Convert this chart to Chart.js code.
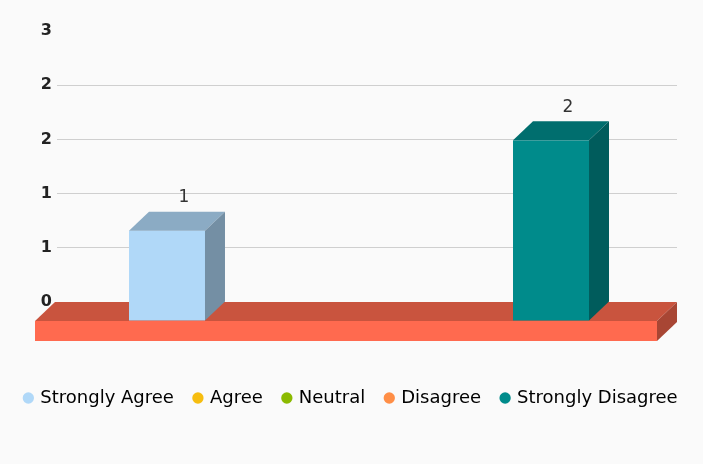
<!DOCTYPE html>
<html>
<head>
<meta charset="utf-8">
<script src="https://cdn.jsdelivr.net/npm/chart.js@4.4.1/dist/chart.umd.min.js"></script>
<style>
  html, body { margin: 0; padding: 0; background: #fafafa; }
  canvas { display: block; }
</style>
</head>
<body>
<canvas id="surveyChart" width="703" height="464"></canvas>
<script>
// Chart data
const categories = ['Strongly Agree', 'Agree', 'Neutral', 'Disagree', 'Strongly Disagree'];
const responses = [1, 0, 0, 0, 2];
const barColors = ['#B0D8F8', '#F6BD0F', '#8BBA00', '#FF8E46', '#008B8B'];
const yTicks = [0, 0.6, 1.2, 1.8, 2.4, 3];

// 3D look
const DEPTH_X = 20;
const DEPTH_Y = 19;
const FLOOR_COLOR = '#FF6A4F';
const FLOOR_THICKNESS = 20;

const shade = (hex, f) => {
    const n = parseInt(hex.slice(1), 16);
    const r = Math.round(((n >> 16) & 255) * f);
    const g = Math.round(((n >> 8) & 255) * f);
    const b = Math.round((n & 255) * f);
    return `rgb(${r},${g},${b})`;
};

// back face: left..right, top..bottom ; front face shifted left/down
const drawBox = (ctx, left, right, top, bottom, color) => {
    ctx.fillStyle = color;
    ctx.fillRect(left - DEPTH_X, top + DEPTH_Y, right - left, bottom - top);

    ctx.fillStyle = shade(color, 0.79);
    ctx.beginPath();
    ctx.moveTo(left - DEPTH_X, top + DEPTH_Y);
    ctx.lineTo(right - DEPTH_X, top + DEPTH_Y);
    ctx.lineTo(right, top);
    ctx.lineTo(left, top);
    ctx.closePath();
    ctx.fill();

    ctx.fillStyle = shade(color, 0.66);
    ctx.beginPath();
    ctx.moveTo(right - DEPTH_X, top + DEPTH_Y);
    ctx.lineTo(right, top);
    ctx.lineTo(right, bottom);
    ctx.lineTo(right - DEPTH_X, bottom + DEPTH_Y);
    ctx.closePath();
    ctx.fill();
};

const bars3d = {
    id: 'bars3d',
    beforeDraw(chart) {
        // floor under the plot
        const { ctx, chartArea, scales } = chart;
        const y0 = scales.y.getPixelForValue(0);
        ctx.save();
        drawBox(ctx, chartArea.left - 2, chartArea.right, y0, y0 + FLOOR_THICKNESS, FLOOR_COLOR);
        ctx.restore();
    },
    afterDatasetsDraw(chart) {
        const { ctx } = chart;
        const meta = chart.getDatasetMeta(0);
        ctx.save();
        meta.data.forEach((bar, i) => {
            if (!responses[i]) return;
            const { x, y, base, width } = bar.getProps(['x', 'y', 'base', 'width'], true);
            drawBox(ctx, x - width / 2, x + width / 2, y, base, barColors[i]);
            ctx.fillStyle = '#333';
            ctx.font = '17px "DejaVu Sans"';
            ctx.textAlign = 'center';
            ctx.textBaseline = 'middle';
            ctx.fillText(String(responses[i]), x - 3, y - 14);
        });
        ctx.restore();
    }
};

Chart.defaults.font.family = '"DejaVu Sans", Verdana, sans-serif';

new Chart(document.getElementById('surveyChart'), {
    type: 'bar',
    data: {
        labels: categories,
        datasets: [{
            label: 'Responses',
            data: responses.map((v, i) => ({ x: i, y: v })),
            backgroundColor: 'rgba(0,0,0,0)',
            barThickness: 76
        }]
    },
    options: {
        responsive: false,
        animation: false,
        layout: { padding: { top: 31, left: 0, right: 0, bottom: 47 } },
        plugins: {
            tooltip: { enabled: false },
            legend: {
                position: 'bottom',
                onClick: () => {},
                labels: {
                    usePointStyle: true,
                    boxWidth: 6,
                    boxHeight: 8,
                    padding: 21,
                    color: '#333',
                    font: { size: 18 },
                    generateLabels: () => categories.map((c, i) => ({
                        text: c,
                        fillStyle: barColors[i],
                        strokeStyle: barColors[i],
                        lineWidth: 0,
                        pointStyle: 'circle',
                        hidden: false,
                        index: i
                    }))
                }
            }
        },
        scales: {
            x: {
                type: 'linear',
                offset: false,
                min: -1.354,
                max: 5.104,
                grid: { display: false },
                border: { display: false },
                ticks: { display: false },
                afterFit: s => { s.height = 66; }
            },
            y: {
                min: 0,
                max: 3,
                afterBuildTicks: s => { s.ticks = yTicks.map(v => ({ value: v })); },
                ticks: {
                    padding: 5,
                    color: '#222',
                    font: { size: 16, weight: 'bold' },
                    callback: v => Math.round(v)
                },
                grid: {
                    drawTicks: false,
                    color: c => (c.tick.value === 0 || c.tick.value === 3) ? 'rgba(0,0,0,0)' : '#cfcfcf'
                },
                border: { display: false },
                afterFit: s => { s.width = 57; }
            },
            yRight: {
                position: 'right',
                grid: { display: false },
                border: { display: false },
                ticks: { display: false },
                afterFit: s => { s.width = 26; }
            }
        }
    },
    plugins: [bars3d]
});
</script>
</body>
</html>
